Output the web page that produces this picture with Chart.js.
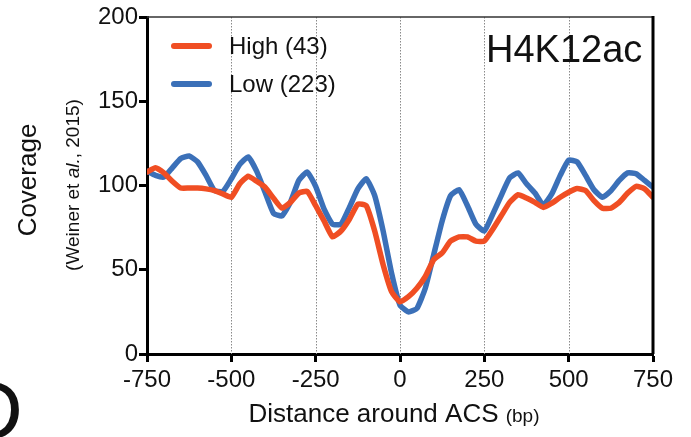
<!DOCTYPE html>
<html>
<head>
<meta charset="utf-8">
<script src="https://cdn.jsdelivr.net/npm/chart.js@4"></script>
<style>
  html, body { margin: 0; padding: 0; background: #fff; }
  #wrap { width: 691px; height: 437px; }
</style>
</head>
<body>
<div id="wrap"><canvas id="acsChart" width="691" height="437"></canvas></div>
<script>
const distance = [-750, -725, -700, -675, -650, -625, -600, -575, -550, -525,
    -500, -475, -450, -425, -400, -375, -350, -325, -300, -275,
    -250, -225, -200, -175, -150, -125, -100, -75, -50, -25,
    0, 25, 50, 75, 100, 125, 150, 175, 200, 225,
    250, 275, 300, 325, 350, 375, 400, 425, 450, 475,
    500, 525, 550, 575, 600, 625, 650, 675, 700, 725, 750];

const highCoverage = [108, 110.5, 107.5, 102.5, 98.5, 98.5, 98.5, 98, 97, 95,
    93, 101, 105.5, 102.5, 99, 92.5, 86.6, 90, 95.5, 96.5,
    88, 79, 69.5, 73, 80, 89, 88, 73, 53, 37,
    31, 34, 39, 46, 56, 60, 67, 69.5, 69.5, 67,
    67, 74, 82, 90, 94.5, 92.6, 90, 87, 89.5, 93,
    96, 98.2, 97, 91, 86.5, 86.5, 90, 95.5, 99.5, 98, 93];

const lowCoverage = [108.5, 106, 105, 110.5, 116, 117.5, 114, 106, 97, 96.5,
    104, 112.5, 117, 108.5, 96, 83.5, 82, 90, 103, 108,
    99.5, 86, 77, 77, 87, 98, 104, 94, 73, 48,
    29, 25, 27, 39, 59, 79, 94, 97.5, 88, 77,
    73, 83, 94, 104.5, 107.5, 101, 95.5, 88.4, 95, 106,
    115, 114, 106, 97.5, 93, 96.8, 103, 107.5, 107, 103, 99];

const xTicks = [-750, -500, -250, 0, 250, 500, 750];
const yTicks = [0, 50, 100, 150, 200];
const seriesNames = ['High (43)', 'Low (223)'];
const markName = 'H4K12ac';

const RED = 'rgb(240, 78, 35)';
const BLUE = 'rgb(59, 112, 184)';
const FONT = '"Liberation Sans", Arial, Helvetica, sans-serif';

const toPoints = (vals) => distance.map((d, i) => ({ x: d, y: vals[i] }));

// frame, dotted verticals, legend and axis titles
const decorations = {
    id: 'decorations',
    beforeDatasetsDraw(chart) {
        const { ctx, chartArea: a, scales: { x } } = chart;
        ctx.save();
        ctx.strokeStyle = '#8a8a8a';
        ctx.lineWidth = 1;
        ctx.setLineDash([1.5, 1.5]);
        xTicks.slice(1, -1).forEach((v) => {
            const px = Math.round(x.getPixelForValue(v)) + 0.5;
            ctx.beginPath();
            ctx.moveTo(px, a.top);
            ctx.lineTo(px, a.bottom);
            ctx.stroke();
        });
        ctx.restore();
    },
    afterDatasetsDraw(chart) {
        const { ctx, chartArea: a } = chart;
        ctx.save();
        // top and right frame
        ctx.strokeStyle = '#333';
        ctx.lineWidth = 1.5;
        ctx.beginPath();
        ctx.moveTo(a.left, a.top);
        ctx.lineTo(a.right, a.top);
        ctx.stroke();
        ctx.strokeStyle = '#000';
        ctx.lineWidth = 3;
        ctx.beginPath();
        ctx.moveTo(a.right, a.top - 1);
        ctx.lineTo(a.right, a.bottom);
        ctx.stroke();

        // legend
        ctx.lineCap = 'round';
        ctx.lineWidth = 6;
        [RED, BLUE].forEach((c, i) => {
            const y = 46 + i * 38;
            ctx.strokeStyle = c;
            ctx.beginPath();
            ctx.moveTo(174, y);
            ctx.lineTo(209, y);
            ctx.stroke();
            ctx.fillStyle = '#111';
            ctx.font = '24px ' + FONT;
            ctx.textBaseline = 'middle';
            ctx.textAlign = 'left';
            ctx.fillText(seriesNames[i], 229, y + 1);
        });

        ctx.font = '38px ' + FONT;
        ctx.textBaseline = 'alphabetic';
        ctx.fillText(markName, 486, 62);

        // x title
        const mainX = 'Distance around ACS ';
        ctx.font = '26px ' + FONT;
        const w1 = ctx.measureText(mainX).width;
        ctx.font = '19px ' + FONT;
        const w2 = ctx.measureText('(bp)').width;
        let sx = 394 - (w1 + w2) / 2;
        ctx.font = '26px ' + FONT;
        ctx.fillText(mainX, sx, 422);
        ctx.font = '19px ' + FONT;
        ctx.fillText('(bp)', sx + w1, 422);

        // y titles
        ctx.save();
        ctx.translate(36, 180);
        ctx.rotate(-Math.PI / 2);
        ctx.font = '26px ' + FONT;
        ctx.textAlign = 'center';
        ctx.fillText('Coverage', 0, 0);
        ctx.restore();

        ctx.save();
        ctx.translate(79, 185);
        ctx.rotate(-Math.PI / 2);
        const parts = [['(Weiner et ', '19px '], ['al.', 'italic 19px '], [', 2015)', '19px ']];
        let total = 0;
        parts.forEach((p) => { ctx.font = p[1] + FONT; total += ctx.measureText(p[0]).width; });
        let px = -total / 2;
        parts.forEach((p) => {
            ctx.font = p[1] + FONT;
            ctx.fillText(p[0], px, 0);
            px += ctx.measureText(p[0]).width;
        });
        ctx.restore();

        // panel letter cut at the corner
        ctx.font = '84px ' + FONT;
        ctx.textAlign = 'right';
        ctx.fillText('D', 23, 439);
        ctx.restore();
    },
};

const acsChart = new Chart(document.getElementById('acsChart'), {
    type: 'line',
    data: {
        datasets: [
            {
                label: seriesNames[0],
                data: toPoints(highCoverage),
                borderColor: RED,
                borderWidth: 5.5,
                pointRadius: 0,
                tension: 0.15,
                borderJoinStyle: 'round',
                borderCapStyle: 'round',
            },
            {
                label: seriesNames[1],
                data: toPoints(lowCoverage),
                borderColor: BLUE,
                borderWidth: 5.5,
                pointRadius: 0,
                tension: 0.15,
                borderJoinStyle: 'round',
                borderCapStyle: 'round',
            },
        ],
    },
    options: {
        responsive: false,
        animation: false,
        layout: { padding: { top: 17, right: 38, left: 0, bottom: 0 } },
        plugins: {
            legend: { display: false },
            tooltip: { enabled: false },
        },
        scales: {
            x: {
                type: 'linear',
                min: -750,
                max: 750,
                afterBuildTicks: (s) => { s.ticks = xTicks.map((v) => ({ value: v })); },
                afterFit: (s) => { s.height = 83; },
                ticks: {
                    color: '#111',
                    font: { family: FONT, size: 24 },
                    padding: 4,
                    maxRotation: 0,
                    autoSkip: false,
                },
                grid: {
                    drawOnChartArea: false,
                    tickLength: 8,
                    tickColor: '#000',
                    tickWidth: 3,
                },
                border: { color: '#000', width: 3 },
            },
            y: {
                min: 0,
                max: 200,
                afterBuildTicks: (s) => { s.ticks = yTicks.map((v) => ({ value: v })); },
                afterFit: (s) => { s.width = 147; },
                ticks: {
                    color: '#111',
                    font: { family: FONT, size: 24 },
                    padding: 1,
                },
                grid: {
                    drawOnChartArea: false,
                    tickLength: 8,
                    tickColor: '#000',
                    tickWidth: 3,
                },
                border: { color: '#000', width: 3 },
            },
        },
    },
    plugins: [decorations],
});
</script>
</body>
</html>
